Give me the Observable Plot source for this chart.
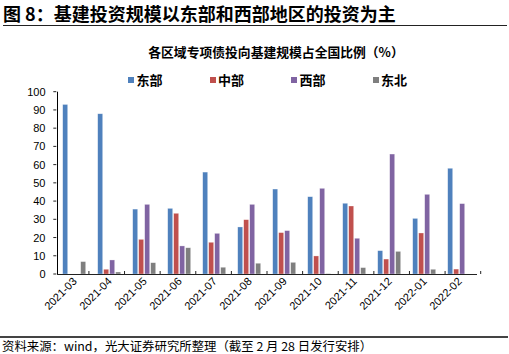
<!DOCTYPE html>
<html>
<head>
<meta charset="utf-8">
<script src="https://cdn.jsdelivr.net/npm/d3@7"></script>
<script src="https://cdn.jsdelivr.net/npm/@observablehq/plot@0.6"></script>
<style>
  html, body { margin: 0; padding: 0; background: #fff; }
  body { width: 509px; height: 354px; position: relative; overflow: hidden; font-family: "Noto Sans CJK SC", sans-serif; color: #000; }
  .abs { position: absolute; white-space: nowrap; }
  #title { left: 3px; top: 1px; font-size: 18px; font-weight: bold; line-height: 24px; }
  #tline { left: 3px; top: 24.8px; width: 504px; height: 1.4px; background: #222; }
  #subtitle { left: 276px; top: 43px; transform: translateX(-50%); font-size: 12.8px; font-weight: bold; line-height: 17px; }
  #legend { left: 128px; top: 71px; display: flex; font-size: 13px; font-weight: bold; line-height: 17px; }
  #legend .item { width: 81.5px; display: flex; align-items: center; }
  #legend .sw { width: 6px; height: 6px; margin-right: 2.5px; }
  #chart { left: 0; top: 85px; }
  #fline { left: 0; top: 336.3px; width: 508px; height: 1.8px; background: #444; }
  #footer { left: 2px; top: 338.8px; font-size: 12.4px; line-height: 14px; }
</style>
</head>
<body>
<div id="title" class="abs">图 8：基建投资规模以东部和西部地区的投资为主</div>
<div id="tline" class="abs"></div>
<div id="subtitle" class="abs">各区域专项债投向基建规模占全国比例（%）</div>
<div id="legend" class="abs"></div>
<div id="chart" class="abs"></div>
<div id="fline" class="abs"></div>
<div id="footer" class="abs">资料来源：wind，光大证券研究所整理（截至 2 月 28 日发行安排）</div>
<script>
const months = ["2021-03","2021-04","2021-05","2021-06","2021-07","2021-08","2021-09","2021-10","2021-11","2021-12","2022-01","2022-02"];
const series = ["东部","中部","西部","东北"];
const east      = [93.0, 87.9, 35.6, 36.0, 55.9, 25.8, 46.6, 42.4, 38.8, 12.8, 30.5, 58.0];
const central   = [0,    2.6,  19.0, 33.3, 17.4, 29.8, 22.7, 9.9,  37.3, 8.2,  22.5, 2.7];
const west      = [0,    7.7,  38.2, 15.4, 22.3, 38.2, 23.8, 47.0, 19.6, 65.8, 43.7, 38.6];
const northeast = [6.8,  1.1,  6.2,  14.4, 3.7,  5.9,  6.4,  0.2,  3.5,  12.4, 2.6,  0];
const colors = ["#4F81BD", "#C0504D", "#8064A2", "#7F7F7F"];
const yTicks = [0, 10, 20, 30, 40, 50, 60, 70, 80, 90, 100];

const seriesValues = [east, central, west, northeast];
const rows = months.flatMap((m, i) => series.map((s, j) => ({month: m, series: s, value: seriesValues[j][i]})));

// legend
const legend = document.getElementById("legend");
series.forEach((s, j) => {
  const item = document.createElement("div");
  item.className = "item";
  const sw = document.createElement("span");
  sw.className = "sw";
  sw.style.background = colors[j];
  const t = document.createElement("span");
  t.textContent = s;
  item.appendChild(sw); item.appendChild(t);
  legend.appendChild(item);
});

const chart = Plot.plot({
  width: 509,
  height: 249,
  marginLeft: 53.3,
  marginRight: 28.3,
  marginTop: 6.7,
  marginBottom: 60,
  style: {fontFamily: "'Liberation Sans', Arial, sans-serif", fontSize: "11px", color: "#000", background: "transparent", overflow: "visible"},
  facet: {data: rows, x: "month"},
  fx: {domain: months, padding: 0, axis: "bottom", tickRotate: -45, tickSize: 0, tickPadding: 5, label: null},
  x: {domain: series, axis: null, paddingInner: 0.11, paddingOuter: 0.8},
  y: {domain: [0, 100], ticks: yTicks, tickSize: 0, tickPadding: 12, label: null, line: true},
  color: {domain: series, range: colors},
  marks: [
    Plot.barY(rows, {x: "series", y: "value", fill: "series", stroke: "#ffffff", strokeOpacity: 0.5, strokeWidth: 0.6}),
    Plot.ruleY([0], {stroke: "#222", strokeWidth: 1.2})
  ]
});
document.getElementById("chart").appendChild(chart);

// inward tick marks derived from the chart's own scales
const fxDesc = chart.scale("fx");
const yDesc = chart.scale("y");
const fxs = d3.scaleBand().domain(fxDesc.domain).range(fxDesc.range).padding(0);
const ys = d3.scaleLinear().domain(yDesc.domain).range(yDesc.range);
const svg = d3.select(chart);
const g = svg.append("g").attr("stroke", "#222").attr("stroke-width", 1);
const x0 = fxDesc.range[0];
g.selectAll("line.yt").data(yTicks).join("line")
  .attr("x1", x0).attr("x2", x0 + 3)
  .attr("y1", d => ys(d)).attr("y2", d => ys(d));
const bounds = months.map(m => fxs(m) + fxs.bandwidth());
g.selectAll("line.xt").data(bounds).join("line")
  .attr("x1", d => d).attr("x2", d => d)
  .attr("y1", ys(0)).attr("y2", ys(0) - 3);
</script>
</body>
</html>
